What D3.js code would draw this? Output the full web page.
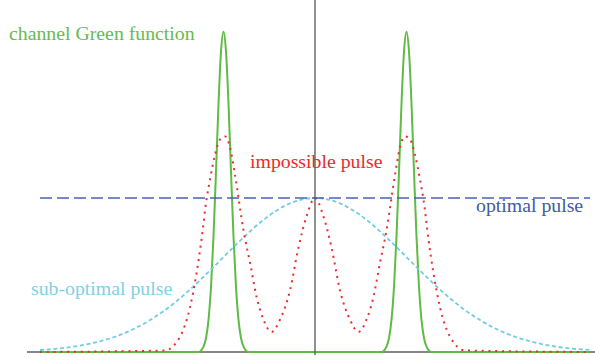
<!DOCTYPE html>
<html>
<head>
<meta charset="utf-8">
<script src="https://cdn.jsdelivr.net/npm/d3@7"></script>
<style>
  body { margin: 0; background: #fff; }
  svg { display: block; }
</style>
</head>
<body>
<script>
// pulse shapes (x in arbitrary time units, y relative to optimal level)

const greenX = [-5.5, -2.33, -2.23, -2.18, -2.13, -2.08, -2.03, -1.98, -1.93, -1.88, -1.83,
                -1.78, -1.73, -1.68, -1.63, -1.58, -1.53, -1.48, -1.43, -1.33,
                1.33, 1.43, 1.48, 1.53, 1.58, 1.63, 1.68, 1.73, 1.78, 1.83,
                1.88, 1.93, 1.98, 2.03, 2.08, 2.13, 2.18, 2.23, 2.33, 5.5];
const greenY = [0, 0, 0.035, 0.091, 0.209, 0.422, 0.749, 1.172, 1.612, 1.951, 2.08,
                1.951, 1.612, 1.172, 0.749, 0.422, 0.209, 0.091, 0.035, 0,
                0, 0.035, 0.091, 0.209, 0.422, 0.749, 1.172, 1.612, 1.951, 2.08,
                1.951, 1.612, 1.172, 0.749, 0.422, 0.209, 0.091, 0.035, 0, 0];

const redX = [-5.5, -3.0, -2.7, -2.5, -2.37, -2.27, -2.17, -2.1, -2.0, -1.9, -1.8, -1.7, -1.6,
              -1.43, -1.3, -1.17, -1.03, -0.87, -0.7, -0.5, -0.33, -0.17, 0,
              0.17, 0.33, 0.5, 0.7, 0.87, 1.03, 1.17, 1.3, 1.43,
              1.6, 1.7, 1.8, 1.9, 2.0, 2.1, 2.17, 2.27, 2.37, 2.5, 2.7, 3.0, 5.5];
const redY = [0, 0.01, 0.10, 0.29, 0.51, 0.73, 0.99, 1.12, 1.28, 1.38, 1.40, 1.33, 1.15,
              0.79, 0.58, 0.36, 0.21, 0.13, 0.21, 0.40, 0.68, 0.88, 1.0,
              0.88, 0.68, 0.40, 0.21, 0.13, 0.21, 0.36, 0.58, 0.79,
              1.15, 1.33, 1.40, 1.38, 1.28, 1.12, 0.99, 0.73, 0.51, 0.29, 0.10, 0.01, 0];

const cyanX = [-5.5, -5, -4.5, -4, -3.5, -3, -2.5, -2, -1.5, -1, -0.5, 0,
               0.5, 1, 1.5, 2, 2.5, 3, 3.5, 4, 4.5, 5, 5.5];
const cyanY = [0.013, 0.027, 0.054, 0.099, 0.170, 0.272, 0.405, 0.561, 0.722, 0.866, 0.965, 1,
               0.965, 0.866, 0.722, 0.561, 0.405, 0.272, 0.170, 0.099, 0.054, 0.027, 0.013];

const optimalX = [-5.5, 5.5];
const optimalY = [1, 1];

const labels = ['channel Green function', 'impossible pulse', 'optimal pulse', 'sub-optimal pulse'];

const WIDTH = 595;
const HEIGHT = 360;

const SVG = d3.select('body')
              .append('svg')
              .attr('width', WIDTH)
              .attr('height', HEIGHT);

const xScale = d3.scaleLinear()
                 .domain([-5.5, 5.5])
                 .range([40, 590]);
const yScale = d3.scaleLinear()
                 .domain([0, 1])
                 .range([352, 198]);

const zip = (xs, ys) => xs.map((x, i) => [x, ys[i]]);

const line = d3.line()
               .x(d => xScale(d[0]))
               .y(d => yScale(d[1]))
               .curve(d3.curveMonotoneX);

// baseline
SVG.append('line')
   .attr('x1', 27).attr('x2', WIDTH)
   .attr('y1', yScale(0)).attr('y2', yScale(0))
   .attr('stroke', '#111')
   .attr('stroke-width', 1.2);

SVG.append('path')
   .attr('d', line(zip(greenX, greenY)))
   .attr('fill', 'none')
   .attr('stroke', '#5fbb45')
   .attr('stroke-width', 2);

SVG.append('path')
   .attr('d', line(zip(cyanX, cyanY)))
   .attr('fill', 'none')
   .attr('stroke', '#6fcde3')
   .attr('stroke-width', 1.8)
   .attr('stroke-dasharray', '4,2.7');

SVG.append('path')
   .attr('d', line(zip(redX, redY)))
   .attr('fill', 'none')
   .attr('stroke', '#ee2a2a')
   .attr('stroke-width', 2)
   .attr('stroke-dasharray', '2,4.8');

SVG.append('path')
   .attr('d', line(zip(optimalX, optimalY)))
   .attr('fill', 'none')
   .attr('stroke', '#4a62b2')
   .attr('stroke-width', 1.3)
   .attr('stroke-dasharray', '12,5');

// labels
const font = '"Liberation Serif", "Times New Roman", serif';
const labelPos = [[9, 40, '#66bb4c'], [250, 168, '#ee2a2a'], [476, 212, '#4259aa'], [31, 295, '#7ed2e6']];

SVG.selectAll('text.label')
   .data(labels)
   .enter()
   .append('text')
   .attr('class', 'label')
   .attr('x', (d, i) => labelPos[i][0])
   .attr('y', (d, i) => labelPos[i][1])
   .attr('fill', (d, i) => labelPos[i][2])
   .style('font-family', font)
   .style('font-size', '19.8px')
   .text(d => d);

// vertical axis
SVG.append('line')
   .attr('x1', xScale(0)).attr('x2', xScale(0))
   .attr('y1', 0).attr('y2', 355)
   .attr('stroke', '#555')
   .attr('stroke-width', 1.3);
</script>
</body>
</html>
